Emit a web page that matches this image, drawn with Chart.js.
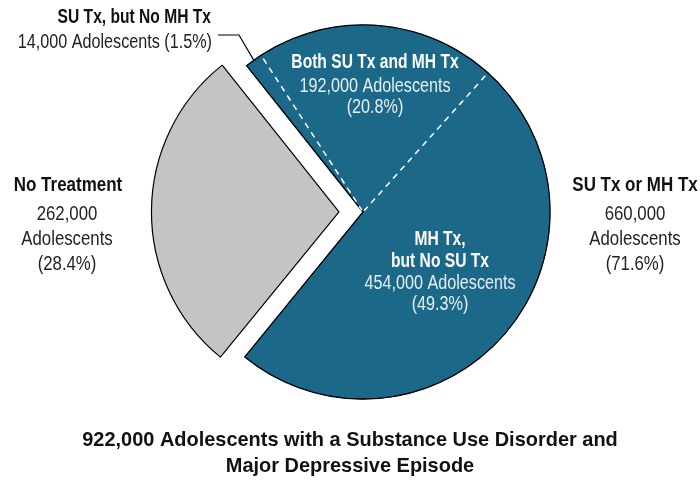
<!DOCTYPE html>
<html>
<head>
<meta charset="utf-8">
<script src="https://cdn.jsdelivr.net/npm/chart.js@4"></script>
<style>
html,body{margin:0;padding:0;background:#fff;}
#wrap{width:700px;height:480px;position:relative;}
</style>
</head>
<body>
<div id="wrap"><canvas id="c" width="700" height="480"></canvas></div>
<script>
// Data (thousands of adolescents)
const categories = ["SU Tx, but No MH Tx", "Both SU Tx and MH Tx", "MH Tx, but No SU Tx", "No Treatment"];
const counts = [14, 192, 454, 262];
const percents = ["1.5%", "20.8%", "49.3%", "28.4%"];
const treatedCount = "660,000";
const treatedPct = "71.6%";
const titleLines = ["922,000 Adolescents with a Substance Use Disorder and", "Major Depressive Episode"];

const TEAL = "#1b6888";
const GRAY = "#c4c4c4";
const FONT = "'Liberation Sans', Arial, sans-serif";

const overlay = {
  id: 'overlay',
  afterDatasetsDraw(chart) {
    const ctx = chart.ctx;
    const arcs = chart.getDatasetMeta(0).data;
    const a0 = arcs[0], a2 = arcs[2];
    const x = a0.x, y = a0.y, r = a0.outerRadius;
    ctx.save();
    // black outline of the treated (teal) region
    ctx.beginPath();
    ctx.moveTo(x, y);
    ctx.arc(x, y, r, a0.startAngle, a2.endAngle);
    ctx.closePath();
    ctx.lineWidth = 1.3;
    ctx.strokeStyle = "#000";
    ctx.stroke();
    // white dashed separators between treated sub-slices
    ctx.setLineDash([6, 5]);
    ctx.lineWidth = 1.5;
    ctx.strokeStyle = "#fff";
    [arcs[1].startAngle, arcs[1].endAngle].forEach(ang => {
      ctx.beginPath();
      ctx.moveTo(x + Math.cos(ang) * (r - 4), y + Math.sin(ang) * (r - 4));
      ctx.lineTo(x + Math.cos(ang) * 2, y + Math.sin(ang) * 2);
      ctx.stroke();
    });
    ctx.setLineDash([]);
    // leader line for the small SU-only slice
    const mid = (a0.startAngle + a0.endAngle) / 2;
    const ex = x + Math.cos(mid) * (r - 1), ey = y + Math.sin(mid) * (r - 1);
    ctx.beginPath();
    ctx.moveTo(218, 35);
    ctx.lineTo(239, 35);
    ctx.lineTo(ex, ey);
    ctx.lineWidth = 1.2;
    ctx.strokeStyle = "#000";
    ctx.stroke();

    ctx.textBaseline = "middle";
    const txt = (s, tx, ty, bold, color, align, size, sx) => {
      ctx.save();
      ctx.font = (bold ? "bold " : "") + size + "px " + FONT;
      ctx.fillStyle = color;
      ctx.textAlign = align || "center";
      ctx.translate(tx, ty);
      ctx.scale(sx, 1);
      ctx.fillText(s, 0, 0);
      ctx.restore();
    };
    const inB = (s, tx, ty, c, a) => txt(s, tx, ty, true, c, a, 19.5, 0.80);
    const inN = (s, tx, ty, c, a) => txt(s, tx, ty, false, c, a, 19.5, 0.83);
    const outB = (s, tx, ty) => txt(s, tx, ty, true, "#111", "center", 19.5, 0.87);
    const outN = (s, tx, ty) => txt(s, tx, ty, false, "#222", "center", 19.5, 0.86);
    const fmt = v => v + ",000 Adolescents";
    // SU only
    inB(categories[0], 211, 18, "#111", "right");
    inN(fmt(counts[0]) + " (" + percents[0] + ")", 212, 43, "#222", "right");
    // Both
    inB(categories[1], 375, 63, "#fff");
    inN(fmt(counts[1]), 375, 87, "#e6eef2");
    inN("(" + percents[1] + ")", 375, 108, "#e6eef2");
    // MH only
    inB("MH Tx,", 440, 240, "#fff");
    inB("but No SU Tx", 440, 262, "#fff");
    inN(fmt(counts[2]), 440, 284, "#e6eef2");
    inN("(" + percents[2] + ")", 440, 305, "#e6eef2");
    // No treatment
    outB(categories[3], 68, 186);
    outN(counts[3] + ",000", 67, 215);
    outN("Adolescents", 67, 240);
    outN("(" + percents[3] + ")", 67, 265);
    // Treated total
    outB("SU Tx or MH Tx", 635, 186);
    outN(treatedCount, 635, 215);
    outN("Adolescents", 635, 240);
    outN("(" + treatedPct + ")", 635, 265);
    // Title
    txt(titleLines[0], 350, 440, true, "#111", "center", 21, 0.95);
    txt(titleLines[1], 350, 466, true, "#111", "center", 21, 0.95);
    ctx.restore();
  }
};

new Chart(document.getElementById('c'), {
  type: 'pie',
  data: {
    labels: categories,
    datasets: [{
      data: counts,
      backgroundColor: [TEAL, TEAL, TEAL, GRAY],
      borderColor: [TEAL, TEAL, TEAL, "#000"],
      borderWidth: [1, 1, 1, 1.2],
      offset: [0, 0, 0, 96]
    }]
  },
  options: {
    responsive: false,
    animation: false,
    events: [],
    rotation: -38.5,
    radius: 187,
    layout: { padding: { top: 12, bottom: 68, left: 100, right: 74 } },
    plugins: { legend: { display: false }, tooltip: { enabled: false }, title: { display: false } }
  },
  plugins: [overlay]
});
</script>
</body>
</html>
